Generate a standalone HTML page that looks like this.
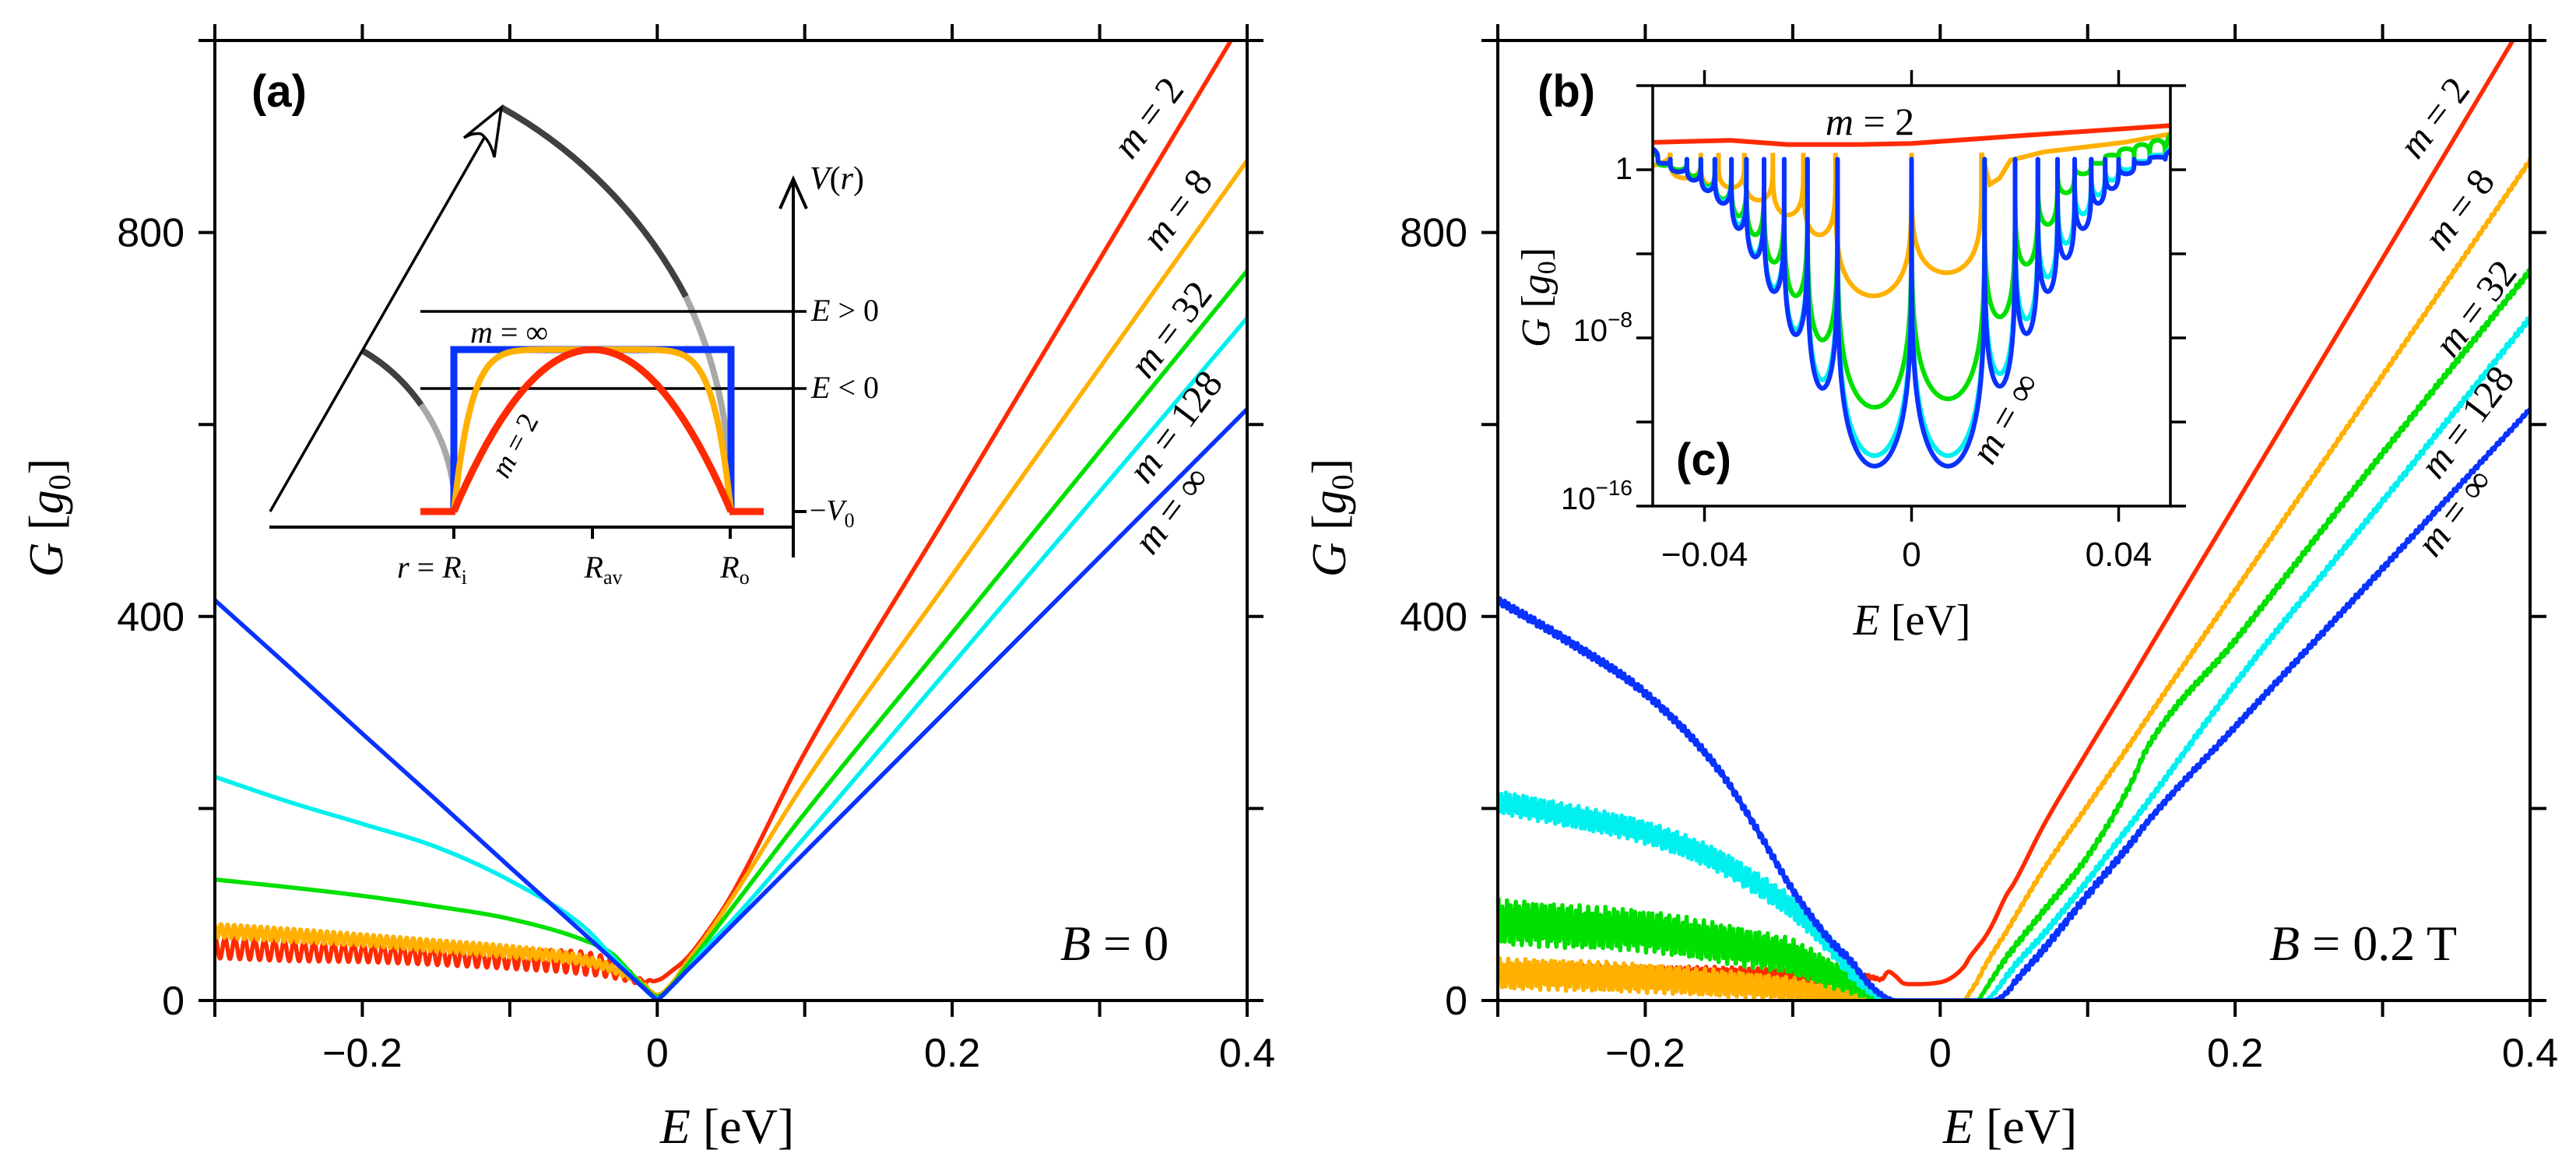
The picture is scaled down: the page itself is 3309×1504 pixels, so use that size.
<!DOCTYPE html>
<html><head><meta charset="utf-8">
<style>
html,body{margin:0;padding:0;background:#fff;}
svg{display:block;}
.tk{font-family:"Liberation Sans",sans-serif;fill:#000;}
.mt{font-family:"Liberation Serif",serif;fill:#000;}
.it{font-style:italic;}
</style></head>
<body>
<svg id="fig" xmlns="http://www.w3.org/2000/svg" width="3309" height="1504" viewBox="0 0 3309 1504">
<rect width="3309" height="1504" fill="#fff"/>
<defs>
<clipPath id="clipA"><rect x="276" y="52" width="1326" height="1233"/></clipPath>
<clipPath id="clipB"><rect x="1924" y="52" width="1326" height="1233"/></clipPath>
<clipPath id="clipI"><rect x="2123" y="110" width="665" height="540"/></clipPath>
</defs>
<g id="panelA"></g>
<g id="panelB"></g>

<g id="insetA" fill="none">
  <path d="M644,138 A597,597 0 0 1 881,381" stroke="#404040" stroke-width="8"/>
  <path d="M881,381 A597,597 0 0 1 938,623" stroke="#a8a8a8" stroke-width="8"/>
  <path d="M465,450 A238,238 0 0 1 541,520" stroke="#404040" stroke-width="8"/>
  <path d="M541,520 A238,238 0 0 1 584,640" stroke="#a8a8a8" stroke-width="8"/>
  <line x1="347" y1="657" x2="642" y2="142" stroke="#000" stroke-width="3.5"/>
  <path d="M596,177 L644,138 L635,202 Q630,181 618,172 Q608,170 596,177 Z" stroke="#000" stroke-width="3.5" fill="#fff"/>
  <line x1="346" y1="677" x2="1020" y2="677" stroke="#000" stroke-width="4"/>
  <line x1="1019" y1="716" x2="1019" y2="232" stroke="#000" stroke-width="4"/>
  <path d="M1002,268 L1019,230 L1036,268" stroke="#000" stroke-width="4"/>
  <line x1="540" y1="400" x2="1036" y2="400" stroke="#000" stroke-width="3.5"/>
  <line x1="540" y1="499" x2="1036" y2="499" stroke="#000" stroke-width="3.5"/>
  <line x1="1019" y1="657" x2="1036" y2="657" stroke="#000" stroke-width="4"/>
  <line x1="583" y1="677" x2="583" y2="692" stroke="#000" stroke-width="4"/>
  <line x1="761" y1="677" x2="761" y2="692" stroke="#000" stroke-width="4"/>
  <line x1="938" y1="677" x2="938" y2="692" stroke="#000" stroke-width="4"/>
  <path d="M583,657 V449 H939 V657" stroke="#0a32ff" stroke-width="9"/>
  <path id="potOrange" stroke="#ffb000" stroke-width="8"/>
  <path id="potRed" stroke="#ff2a00" stroke-width="9"/>
  <line x1="540" y1="657" x2="585" y2="657" stroke="#ff2a00" stroke-width="9"/>
  <line x1="937" y1="657" x2="981" y2="657" stroke="#ff2a00" stroke-width="9"/>
  <text x="1042" y="412" class="mt" font-size="40"><tspan class="it">E</tspan> &gt; 0</text>
  <text x="1042" y="511" class="mt" font-size="40"><tspan class="it">E</tspan> &lt; 0</text>
  <text x="1040" y="668" class="mt" font-size="38">−<tspan class="it">V</tspan><tspan font-size="26" dy="9">0</tspan></text>
  <text x="1040" y="243" class="mt" font-size="42"><tspan class="it">V</tspan>(<tspan class="it">r</tspan>)</text>
  <text x="555" y="742" class="mt" font-size="40" text-anchor="middle"><tspan class="it">r</tspan> = <tspan class="it">R</tspan><tspan font-size="26" dy="8">i</tspan></text>
  <text x="775" y="742" class="mt" font-size="40" text-anchor="middle"><tspan class="it">R</tspan><tspan font-size="26" dy="8">av</tspan></text>
  <text x="944" y="742" class="mt" font-size="40" text-anchor="middle"><tspan class="it">R</tspan><tspan font-size="26" dy="8">o</tspan></text>
  <text x="604" y="440" class="mt" font-size="40"><tspan class="it">m</tspan> = ∞</text>
  <text x="0" y="0" class="mt" font-size="38" text-anchor="middle" transform="translate(672,578) rotate(-62)"><tspan class="it">m</tspan> = 2</text>
</g>

<g id="insetB">
  <rect x="2123" y="110" width="665" height="540" fill="#fff"/>
  <g id="insetCurves" clip-path="url(#clipI)"></g>
  <rect x="2123" y="110" width="665" height="540" fill="none" stroke="#000" stroke-width="3.5"/>
  <g id="insetTicks"></g>
  <text x="2456" y="815" class="mt" font-size="56" text-anchor="middle"><tspan class="it">E</tspan> [eV]</text>
  <text x="0" y="0" class="mt" font-size="52" text-anchor="middle" transform="translate(1990,382) rotate(-90)"><tspan class="it">G</tspan> [<tspan class="it">g</tspan><tspan font-size="34" dy="8">0</tspan><tspan dy="-8">]</tspan></text>
  <text x="2402" y="173" class="mt" font-size="50" text-anchor="middle"><tspan class="it">m</tspan> = 2</text>
  <text x="0" y="0" class="mt" font-size="50" text-anchor="middle" transform="translate(2590,545) rotate(-60)"><tspan class="it">m</tspan> = ∞</text>
  <text x="2153" y="610" class="tk" font-size="58" font-weight="bold">(c)</text>
</g>
<text x="1975" y="137" class="tk" font-size="58" font-weight="bold">(b)</text>
<text x="323" y="137" class="tk" font-size="58" font-weight="bold">(a)</text>
</svg>

<script>
// ---------- data: panel (a), B = 0 ----------
const E_A = [-0.3,-0.25,-0.2,-0.15,-0.1,-0.05,-0.03,-0.02,-0.01,0,0.01,0.02,0.03,0.05,0.1,0.2,0.3,0.4];
const redA    = [55,52,50,47,43,39,33,26,20,21,31,44,63,109,258,515,772,1028];
const orangeA = [73,68,63,57,51,42,33,26,18,6,18,40,60,105,227,443,659,875];
const greenA  = [126,118,109,98,85,63,48,32,16,4,16,36,55,95,195,383,572,760];
const cyanA   = [233,207,184,160,125,77,45,29,14,2,15,31,50,82,170,350,530,711];
const blueA   = [417,348,278,209,139,70,42,28,14,0,15,31,46,77,154,308,462,616];
const redAmpA    = [11,11,10,10,10,12,10,6,2,0,0,0,0,0,0,0,0,0];
const orangeAmpA = [7,7,6,6,6,5,4,3,1,0,0,0,0,0,0,0,0,0];
const oscPeriodA = [0.0067, 0.0045];

// ---------- data: panel (b), B = 0.2 T ----------
const E_B = [-0.3,-0.25,-0.2,-0.15,-0.125,-0.1,-0.075,-0.06,-0.05,-0.04,-0.035,-0.03,-0.025,-0.02,0,0.016,0.02,0.025,0.03,0.035,0.045,0.05,0.07,0.1,0.13,0.14,0.2,0.3,0.4];
const blueB   = [417,372,320,240,180,115,63,40,20,6,2,0,0,0,0,0,0,0,0,0,8,18,53,110,165,185,285,450,616];
const cyanB   = [207,192,175,145,122,96,58,30,14,3,1,0,0,0,0,0,0,0,0,5,25,35,69,125,185,205,330,520,711];
const greenB  = [82,77,72,60,53,45,28,18,9,2,0,0,0,0,0,0,0,0,10,22,45,55,93,150,228,262,375,570,760];
const orangeB = [28,26,23,18,15,12,7,5,4,1,0,0,0,0,0,0,8,20,35,48,72,85,136,203,270,293,427,651,875];
const redB    = [30,30,28,27,26,25,24,24,25,22,30,25,18,17,19,35,45,55,65,78,110,122,182,260,336,362,516,773,1030];
const blueNB   = [4,4,4,4,4,4,4,4,3,2,1,0,0,0,0,0,0,0,0,0,2,3,4,4,4,3,3,3,2];
const cyanNB   = [12,12,12,12,12,12,10,8,5,2,0,0,0,0,0,0,0,0,0,1,3,3,3,3,3,3,3,3,3];
const greenNB  = [24,23,22,21,20,19,15,11,7,3,0,0,0,0,0,0,0,0,1,2,3,3,3,3,3,3,3,3,3];
const orangeNB = [16,16,15,14,13,12,8,6,4,1,0,0,0,0,0,0,1,2,2,2,2,2,2,2,2,2,2,2,2];
const redNB    = [8,8,8,8,8,8,6,4,2,1,0,0,0,0,0,0,0,0,0,0,0,0,0,0,0,0,0,0,0];

// ---------- data: inset (c), log10 G ----------
const spikesBlue = [-0.049,-0.0466,-0.0434,-0.0407,-0.038,-0.0348,-0.0319,-0.0285,-0.0246,-0.0201,-0.0143,0,0.0141,0.02,0.0244,0.0282,0.0315,0.0347,0.0374,0.04,0.043,0.046,0.049];
const troughBlue  = [0.3,-0.1,-0.5,-1.0,-1.6,-2.8,-4.15,-5.8,-7.85,-10.4,-14.1,-14.1,-10.3,-7.8,-5.8,-4.2,-2.8,-1.6,-0.9,-0.2,0.3,0.6];
const troughCyan  = [0.3,-0.1,-0.5,-0.9,-1.5,-2.6,-4.0,-5.6,-7.6,-10.0,-13.6,-13.6,-9.7,-7.1,-5.1,-3.5,-2.1,-1.2,-0.5,0,0.4,0.7];
const troughGreen = [0.2,0,-0.3,-0.8,-1.4,-2.2,-3.1,-4.4,-6.0,-8.1,-11.3,-10.9,-7.0,-4.5,-2.6,-1.1,-0.2,0.3,0.7,1.0,1.2,1.4];
const spikesOrange = [-0.0466,-0.0407,-0.0373,-0.0323,-0.0268,-0.0209,-0.0147,0,0.0135];
const troughOrange = [-0.4,-0.7,-0.85,-1.45,-2.15,-3.1,-6.0,-4.9];
const tailOrangeE = [0.0135,0.0151,0.017,0.0191,0.0256,0.041,0.05];
const tailOrangeL = [0.8,-0.7,-0.4,0.45,0.85,1.3,1.7];
const redInsetE = [-0.05,-0.035,-0.024,-0.01,0,0.02,0.05];
const redInsetL = [1.3,1.4,1.2,1.2,1.25,1.6,2.1];
const edgeLeft = [1.0, 1.0, 0.8, 0.2];
const spikeTop = [0.5, 0.5, 0.5, 0.8];
const insetXTicks = [-0.04, 0, 0.04];
const insetYTicks = [4, 0, -4, -8, -12, -16];
const insetYLabels = [[0,'1',''],[-8,'10','−8'],[-16,'10','−16']];

const xTicks = [-0.3,-0.2,-0.1,0,0.1,0.2,0.3,0.4];
const xTickLabels = [[-0.2,'−0.2'],[0,'0'],[0.2,'0.2'],[0.4,'0.4']];
const yTicks = [0,200,400,600,800,1000];
const yTickLabels = [[0,'0'],[400,'400'],[800,'800']];
const seriesNames = ['m-2','m-8','m-32','m-128','m-inf'];
const colors = ['#ff2a00','#ffb000','#00e000','#00f0f0','#0a32ff'];

const NS = 'http://www.w3.org/2000/svg';
function mk(tag, parent){ const e = document.createElementNS(NS, tag); parent.appendChild(e); return e; }
function interp(x, xs, ys){
  if (x <= xs[0]) return ys[0];
  for (let i=1;i<xs.length;i++){ if (x <= xs[i]){ const t=(x-xs[i-1])/(xs[i]-xs[i-1]); return ys[i-1]+t*(ys[i]-ys[i-1]); } }
  return ys[ys.length-1];
}
function mono(xs, ys){
  const n=xs.length, d=[], m=[];
  for (let i=0;i<n-1;i++) d.push((ys[i+1]-ys[i])/(xs[i+1]-xs[i]));
  m[0]=d[0]; m[n-1]=d[n-2];
  for (let i=1;i<n-1;i++){ m[i] = (d[i-1]*d[i]<=0)?0:(d[i-1]+d[i])/2; }
  for (let i=0;i<n-1;i++){
    if (d[i]===0){ m[i]=0; m[i+1]=0; continue; }
    const a=m[i]/d[i], b=m[i+1]/d[i], s=a*a+b*b;
    if (s>9){ const t=3/Math.sqrt(s); m[i]=t*a*d[i]; m[i+1]=t*b*d[i]; }
  }
  return x=>{
    if (x<=xs[0]) return ys[0];
    if (x>=xs[n-1]) return ys[n-1];
    let i=0; while (x>xs[i+1]) i++;
    const h=xs[i+1]-xs[i], t=(x-xs[i])/h, t2=t*t, t3=t2*t;
    return (2*t3-3*t2+1)*ys[i]+(t3-2*t2+t)*h*m[i]+(-2*t3+3*t2)*ys[i+1]+(t3-t2)*h*m[i+1];
  };
}
const yTop = 52, yBot = 1285;
function xScale(px0, px1){ return E => px0 + (E+0.3)/0.7*(px1-px0); }
function yScale(G){ return yBot - G*(yBot-yTop)/1000; }

function drawAxes(g, x0, x1){
  const xs = xScale(x0,x1);
  const fr = mk('rect', g);
  
  
  fr.setAttribute('x',x0); fr.setAttribute('y',yTop); fr.setAttribute('width',x1-x0); fr.setAttribute('height',yBot-yTop);
  fr.setAttribute('fill','none'); fr.setAttribute('stroke','#000'); fr.setAttribute('stroke-width','4');
  xTicks.forEach(v=>{
    [[yBot,yBot+21],[yTop,yTop-21]].forEach(p=>{
      const l = mk('line', g);
      
      
      l.setAttribute('x1',xs(v)); l.setAttribute('x2',xs(v)); l.setAttribute('y1',p[0]); l.setAttribute('y2',p[1]);
      l.setAttribute('stroke','#000'); l.setAttribute('stroke-width','4');
    });
  });
  yTicks.forEach(v=>{
    [[x0,x0-21],[x1,x1+21]].forEach(p=>{
      const l = mk('line', g);
      
      
      l.setAttribute('y1',yScale(v)); l.setAttribute('y2',yScale(v)); l.setAttribute('x1',p[0]); l.setAttribute('x2',p[1]);
      l.setAttribute('stroke','#000'); l.setAttribute('stroke-width','4');
    });
  });
  xTickLabels.forEach(d=>{
    const t = mk('text', g);
    
    
    t.setAttribute('x',xs(d[0])); t.setAttribute('y',1370); t.setAttribute('text-anchor','middle');
    t.setAttribute('class','tk'); t.setAttribute('font-size','52'); t.textContent = d[1];
  });
  yTickLabels.forEach(d=>{
    const t = mk('text', g);
    
    
    t.setAttribute('x',x0-39); t.setAttribute('y',yScale(d[0])+18); t.setAttribute('text-anchor','end');
    t.setAttribute('class','tk'); t.setAttribute('font-size','52'); t.textContent = d[1];
  });
  const xl = mk('text', g);
  
  
  xl.setAttribute('x',(x0+x1)/2-5); xl.setAttribute('y',1468); xl.setAttribute('text-anchor','middle');
  xl.setAttribute('class','mt'); xl.setAttribute('font-size','64');
  xl.innerHTML = '<tspan class="it">E</tspan> [eV]';
  const yl = mk('text', g);
  
  
  yl.setAttribute('x',0); yl.setAttribute('y',0); yl.setAttribute('text-anchor','middle');
  yl.setAttribute('transform','translate('+(x0-196)+',665) rotate(-90)');
  yl.setAttribute('class','mt'); yl.setAttribute('font-size','62');
  yl.innerHTML = '<tspan class="it">G</tspan> [<tspan class="it">g</tspan><tspan font-size="40" dy="10">0</tspan><tspan dy="-10">]</tspan>';
}

function curvePath(xs, fn, step){
  let d='';
  for (let E=-0.3; E<=0.4+1e-9; E+=step){
    const G = fn(E);
    d += (d?'L':'M') + xs(E).toFixed(1) + ',' + yScale(G).toFixed(1);
  }
  return d;
}
function noise(E, k){
  return 0.6*Math.sin(2*Math.PI*E/0.0029 + k) + 0.4*Math.sin(2*Math.PI*E/0.00117 + 2.3*k);
}

(function(){
  const g = document.getElementById('panelA');
  const x0=276, x1=1602, xs = xScale(x0,x1);
  const cg = mk('g', g);
  
  
  cg.setAttribute('clip-path','url(#clipA)');
  const sets = [redA, orangeA, greenA, cyanA, blueA];
  for (let s=0;s<5;s++){
    const p = mk('path', cg);
    
    
    const base = (s===4) ? (E=>interp(E,E_A,sets[s])) : mono(E_A, sets[s]);
    const fn = E => {
      let G = base(E);
      if (s===0) G += interp(E,E_A,redAmpA)*Math.sin(2*Math.PI*E/oscPeriodA[0]);
      if (s===1) G += interp(E,E_A,orangeAmpA)*Math.sin(2*Math.PI*E/oscPeriodA[1]);
      return G;
    };
    p.setAttribute('d', curvePath(xs, fn, 0.0004));
    p.setAttribute('fill','none'); p.setAttribute('stroke',colors[s]); p.setAttribute('stroke-width','5.5');
    p.setAttribute('stroke-linejoin','round');
  }
  drawAxes(g, x0, x1);
  const lbl = [[1488,145],[1525,263],[1517,417],[1523,542],[1518,649]];
  const txt = ['2','8','32','128','∞'];
  for (let s=0;s<5;s++){
    const t = mk('text', g);
    
    
    t.setAttribute('x',0); t.setAttribute('y',0); t.setAttribute('text-anchor','middle');
    t.setAttribute('transform','translate('+lbl[s][0]+','+(lbl[s][1]+16)+') rotate(-53)');
    t.setAttribute('class','mt'); t.setAttribute('font-size','50');
    t.innerHTML = '<tspan class="it">m</tspan> = '+txt[s];
  }
  const b = mk('text', g);
  
  
  b.setAttribute('x',1362); b.setAttribute('y',1233); b.setAttribute('class','mt'); b.setAttribute('font-size','64');
  b.innerHTML = '<tspan class="it">B</tspan> = 0';
})();

(function(){
  const g = document.getElementById('panelB');
  const x0=1924, x1=3250, xs = xScale(x0,x1);
  const cg = mk('g', g);
  
  
  cg.setAttribute('clip-path','url(#clipB)');
  const sets = [redB, orangeB, greenB, cyanB, blueB];
  const nz = [redNB, orangeNB, greenNB, cyanNB, blueNB];
  [0,1,2,3,4].forEach(s=>{
    const p = mk('path', cg);
    
    
    const base = mono(E_B, sets[s]);
    const fn = E => Math.max(0, base(E) + interp(E,E_B,nz[s])*noise(E, s*1.7));
    p.setAttribute('d', curvePath(xs, fn, 0.00025));
    p.setAttribute('fill','none'); p.setAttribute('stroke',colors[s]); p.setAttribute('stroke-width','5.5');
    p.setAttribute('stroke-linejoin','round');
  });
  drawAxes(g, x0, x1);
  const lbl = [[3140,145],[3172,263],[3193,390],[3182,536],[3166,652]];
  const txt = ['2','8','32','128','∞'];
  for (let s=0;s<5;s++){
    const t = mk('text', g);
    
    
    t.setAttribute('x',0); t.setAttribute('y',0); t.setAttribute('text-anchor','middle');
    t.setAttribute('transform','translate('+lbl[s][0]+','+(lbl[s][1]+16)+') rotate(-53)');
    t.setAttribute('class','mt'); t.setAttribute('font-size','50');
    t.innerHTML = '<tspan class="it">m</tspan> = '+txt[s];
  }
  const b = mk('text', g);
  
  
  b.setAttribute('x',2915); b.setAttribute('y',1233); b.setAttribute('class','mt'); b.setAttribute('font-size','64');
  b.innerHTML = '<tspan class="it">B</tspan> = 0.2 T';
})();

(function(){
  function dome(m){
    let d='';
    for (let i=0;i<=200;i++){
      const x = 583 + (939-583)*i/200;
      const u = (x-761)/178;
      const y = 657 - 208*(1-Math.pow(Math.abs(u),m));
      d += (d?'L':'M') + x.toFixed(1)+','+y.toFixed(1);
    }
    return d;
  }
  document.getElementById('potOrange').setAttribute('d', dome(8));
  document.getElementById('potRed').setAttribute('d', dome(2));
})();

(function(){
  const g = document.getElementById('insetCurves');
  const ix0=2123, ix1=2788;
  const ixs = E => ix0 + (E+0.05)/0.1*(ix1-ix0);
  const iys = L => 218 - 27*L;
  function spikePath(spikes, troughs, top, edge, tailE, tailL){
    let pts=[];
    const s0 = spikes[0];
    for (let i=0;i<=20;i++){ const t=i/20; const E=-0.05+(s0+0.05)*t; pts.push([E, top+(edge-top)*Math.pow(1-t,0.35)]); }
    for (let k=0;k<spikes.length-1;k++){
      const a=spikes[k], b=spikes[k+1], m=troughs[k];
      for (let i=1;i<=60;i++){
        const t = 0.5-0.5*Math.cos(Math.PI*i/60);
        const f = Math.pow(Math.max(0,4*t*(1-t)),0.2);
        pts.push([a+(b-a)*t, top+(m-top)*f]);
      }
    }
    if (tailE){ for (let i=1;i<tailE.length;i++) pts.push([tailE[i], tailL[i]]); }
    else {
      const sl = spikes[spikes.length-1];
      for (let i=1;i<=10;i++){ const t=i/10; pts.push([sl+(0.05-sl)*t, top+(troughs[troughs.length-1]+0.3-top)*Math.pow(t,0.35)]); }
    }
    return pts.map((p,i)=>(i?'L':'M')+ixs(p[0]).toFixed(1)+','+iys(p[1]).toFixed(1)).join('');
  }
  const pr = mk('path', g);
  
  
  pr.setAttribute('d', redInsetE.map((E,i)=>(i?'L':'M')+ixs(E).toFixed(1)+','+iys(redInsetL[i]).toFixed(1)).join(''));
  pr.setAttribute('fill','none'); pr.setAttribute('stroke',colors[0]); pr.setAttribute('stroke-width','6');
  const po = mk('path', g);
  
  
  po.setAttribute('d', spikePath(spikesOrange, troughOrange, spikeTop[3], edgeLeft[3], tailOrangeE, tailOrangeL));
  po.setAttribute('fill','none'); po.setAttribute('stroke',colors[1]); po.setAttribute('stroke-width','6');
  const sets = [[troughGreen,2,2],[troughCyan,3,1],[troughBlue,4,0]];
  sets.forEach(s=>{
    const p = mk('path', g);
    
    
    p.setAttribute('d', spikePath(spikesBlue, s[0], spikeTop[s[2]], edgeLeft[s[2]], null, null));
    p.setAttribute('fill','none'); p.setAttribute('stroke',colors[s[1]]); p.setAttribute('stroke-width','6');
    p.setAttribute('stroke-linejoin','round');
  });
  const tg = document.getElementById('insetTicks');
  insetXTicks.forEach(v=>{
    [[650,670],[110,90]].forEach(p=>{
      const l = mk('line', tg);
      
      
      l.setAttribute('x1',ixs(v)); l.setAttribute('x2',ixs(v)); l.setAttribute('y1',p[0]); l.setAttribute('y2',p[1]);
      l.setAttribute('stroke','#000'); l.setAttribute('stroke-width','3.5');
    });
    const t = mk('text', tg);
    
    
    t.setAttribute('x',ixs(v)); t.setAttribute('y',727); t.setAttribute('text-anchor','middle');
    t.setAttribute('class','tk'); t.setAttribute('font-size','44');
    t.textContent = v===0?'0':(v<0?'−':'')+Math.abs(v).toFixed(2);
  });
  insetYTicks.forEach(v=>{
    [[2123,2102],[2788,2808]].forEach(p=>{
      const l = mk('line', tg);
      
      
      l.setAttribute('y1',iys(v)); l.setAttribute('y2',iys(v)); l.setAttribute('x1',p[0]); l.setAttribute('x2',p[1]);
      l.setAttribute('stroke','#000'); l.setAttribute('stroke-width','3.5');
    });
  });
  insetYLabels.forEach(d=>{
    const t = mk('text', tg);
    
    
    t.setAttribute('x',2097); t.setAttribute('y',iys(d[0])+(d[2]?4:12)); t.setAttribute('text-anchor','end');
    t.setAttribute('class','tk'); t.setAttribute('font-size','40');
    t.innerHTML = d[1] + (d[2]?'<tspan font-size="28" dy="-18">'+d[2]+'</tspan>':'');
  });
})();
</script>
</body></html>
